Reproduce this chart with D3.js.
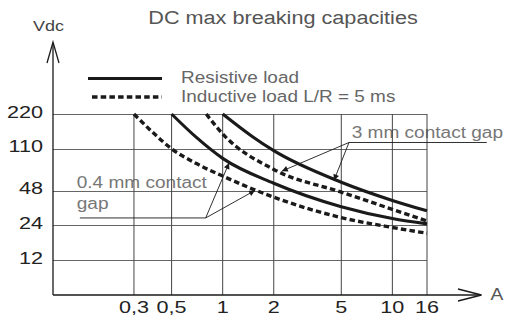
<!DOCTYPE html>
<html>
<head>
<meta charset="utf-8">
<script src="https://cdn.jsdelivr.net/npm/d3@7"></script>
<style>
body { margin: 0; background: #fff; }
text { font-family: "Liberation Sans", Arial, sans-serif; }
</style>
</head>
<body>
<div id="chart"></div>
<script>
//////////////////////////////////////////////////////////////////////////////
// Data (current in A, voltage in Vdc)

var titleText = "DC max breaking capacities";
var legendLabels = ["Resistive load", "Inductive load L/R = 5 ms"];

var ampTicks  = [0.3, 0.5, 1, 2, 5, 10, 16];
var ampLabels = ["0,3", "0,5", "1", "2", "5", "10", "16"];
var voltTicks  = [12, 24, 48, 110, 220];
var voltLabels = ["12", "24", "48", "110", "220"];

// 0.4 mm contact gap
var res04Amps  = [0.5, 0.7, 1, 2, 5, 10, 16];
var res04Volts = [220, 138, 91, 55.5, 34.8, 27.5, 24.7];
var ind04Amps  = [0.3, 0.4, 0.5, 0.7, 1, 2, 5, 10, 16];
var ind04Volts = [220, 146, 110, 82, 64, 42, 28, 23, 20.5];

// 3 mm contact gap
var res3Amps  = [1, 1.5, 2, 5, 10, 16];
var res3Volts = [220, 140, 106, 56.6, 39.4, 32];
var ind3Amps  = [0.8, 1, 2, 5, 10, 16];
var ind3Volts = [220, 148, 73, 46.5, 33, 26.2];

//////////////////////////////////////////////////////////////////////////////
// Scales, preliminaries

var width = 505, height = 318;

var xScale = d3.scaleLog().domain([0.1, 16]).range([53, 427]);
var yScale = d3.scaleLog().domain([6, 220]).range([295, 114]);

var ink = "#1a1a1a";
var fontScale = 1.19;

function zip(xs, ys) {
    return xs.map(function(x, i) { return [x, ys[i]]; });
}

// log-log interpolation on a curve, used to put arrow tips on the lines
function voltAt(amps, volts, a) {
    for (var i = 1; i < amps.length; i++) {
        if (a <= amps[i]) {
            var t = Math.log(a / amps[i-1]) / Math.log(amps[i] / amps[i-1]);
            return Math.exp(Math.log(volts[i-1]) + t * Math.log(volts[i] / volts[i-1]));
        }
    }
    return volts[volts.length - 1];
}

var line = d3.line()
    .x(function(d) { return xScale(d[0]); })
    .y(function(d) { return yScale(d[1]); })
    .curve(d3.curveMonotoneX);

function addText(sel, str, x, y, size, anchor, fill, sx) {
    return sel.append("text")
        .attr("transform", "translate(" + x + "," + y + ") scale(" + sx + ",1)")
        .attr("font-size", size)
        .attr("text-anchor", anchor)
        .attr("fill", fill)
        .text(str);
}

var svg = d3.select("#chart")
    .append("svg")
    .attr("width", width)
    .attr("height", height);

svg.append("defs")
    .append("marker")
    .attr("id", "head")
    .attr("viewBox", "0 0 10 10")
    .attr("refX", 10)
    .attr("refY", 5)
    .attr("markerWidth", 8)
    .attr("markerHeight", 6)
    .attr("markerUnits", "userSpaceOnUse")
    .attr("orient", "auto")
    .append("path")
    .attr("d", "M0,0 L10,5 L0,10 Z")
    .attr("fill", ink);

//////////////////////////////////////////////////////////////////////////////
// Title, axis names, legend

addText(svg, titleText, 283, 23.5, 19, "middle", "#555", 1.14);
addText(svg, "Vdc", 48.5, 30.5, 15, "middle", "#444", 1.2);
addText(svg, "A", 497, 300, 16, "middle", "#555", 1.2);

var legend = svg.append("g");
legend.append("line")
    .attr("x1", 88).attr("x2", 162).attr("y1", 78.5).attr("y2", 78.5)
    .attr("stroke", ink).attr("stroke-width", 3.2);
legend.append("line")
    .attr("x1", 92).attr("x2", 162).attr("y1", 97).attr("y2", 97)
    .attr("stroke", ink).attr("stroke-width", 3.4)
    .attr("stroke-dasharray", "5.5,3.2");
addText(legend, legendLabels[0], 181, 83, 17, "start", "#666", 1.115);
addText(legend, legendLabels[1], 181, 101.5, 17, "start", "#666", 1.115);

//////////////////////////////////////////////////////////////////////////////
// Annotation texts (drawn below the grid, as in the original)

var gap04Text = [0.138, 50.5];
var gap3Text  = [5.76, 135.6];

addText(svg, "0.4 mm contact", xScale(gap04Text[0]), yScale(gap04Text[1]), 16, "start", "#777", fontScale);
addText(svg, "gap", xScale(gap04Text[0]), yScale(gap04Text[1]) + 21, 16, "start", "#777", fontScale);
addText(svg, "3 mm contact gap", xScale(gap3Text[0]), yScale(gap3Text[1]), 16, "start", "#777", fontScale);

//////////////////////////////////////////////////////////////////////////////
// Grid and axes

var grid = svg.append("g")
    .attr("stroke", "#444")
    .attr("stroke-width", 1);

grid.selectAll("line.h")
    .data(voltTicks)
    .enter()
    .append("line")
    .attr("class", "h")
    .attr("x1", xScale(0.1))
    .attr("x2", xScale(16))
    .attr("y1", function(d) { return Math.round(yScale(d)) + 0.5; })
    .attr("y2", function(d) { return Math.round(yScale(d)) + 0.5; })
    .attr("stroke", "#666");

grid.selectAll("line.v")
    .data(ampTicks)
    .enter()
    .append("line")
    .attr("class", "v")
    .attr("x1", function(d) { return xScale(d); })
    .attr("x2", function(d) { return xScale(d); })
    .attr("y1", yScale(220))
    .attr("y2", yScale(6));

var axes = svg.append("g")
    .attr("stroke", ink)
    .attr("stroke-width", 1.3)
    .attr("fill", "none");

axes.append("line")
    .attr("x1", xScale(0.1)).attr("x2", xScale(0.1))
    .attr("y1", yScale(6)).attr("y2", 43);
axes.append("path")
    .attr("d", "M" + (xScale(0.1) - 6) + ",63 L" + xScale(0.1) + ",42 L" + (xScale(0.1) + 6) + ",63");
axes.append("line")
    .attr("x1", xScale(0.1)).attr("x2", 481)
    .attr("y1", yScale(6)).attr("y2", yScale(6));
axes.append("path")
    .attr("d", "M458," + (yScale(6) - 6) + " L481.5," + yScale(6) + " L458," + (yScale(6) + 6));

svg.append("g")
    .selectAll("text")
    .data(voltTicks)
    .enter()
    .append("text")
    .attr("transform", function(d) {
        return "translate(43," + (yScale(d) + 3.5) + ") scale(1.27,1)";
    })
    .attr("text-anchor", "end")
    .attr("font-size", 17)
    .attr("fill", "#222")
    .text(function(d, i) { return voltLabels[i]; });

svg.append("g")
    .selectAll("text")
    .data(ampTicks)
    .enter()
    .append("text")
    .attr("transform", function(d) {
        return "translate(" + xScale(d) + ",313) scale(1.27,1)";
    })
    .attr("text-anchor", "middle")
    .attr("font-size", 17)
    .attr("fill", "#222")
    .text(function(d, i) { return ampLabels[i]; });

//////////////////////////////////////////////////////////////////////////////
// Curves

var curves = [
    { pts: zip(res04Amps, res04Volts), dashed: false },
    { pts: zip(ind04Amps, ind04Volts), dashed: true },
    { pts: zip(res3Amps, res3Volts), dashed: false },
    { pts: zip(ind3Amps, ind3Volts), dashed: true }
];

svg.append("g")
    .selectAll("path")
    .data(curves)
    .enter()
    .append("path")
    .attr("d", function(d) { return line(d.pts); })
    .attr("fill", "none")
    .attr("stroke", ink)
    .attr("stroke-width", function(d) { return d.dashed ? 3.4 : 3.1; })
    .attr("stroke-dasharray", function(d) { return d.dashed ? "5.5,3.2" : null; });

//////////////////////////////////////////////////////////////////////////////
// Annotation leaders

var gap04Leader = [[0.144, 27.8], [0.794, 27.8]];
var gap04Tips = [
    [1.09, voltAt(res04Amps, res04Volts, 1.09) * 0.97],
    [1.55, voltAt(ind04Amps, ind04Volts, 1.55) * 0.98]
];
var gap3Leader = [[36, 124.8], [5.55, 124.8]];
var gap3Tips = [
    [2.23, voltAt(ind3Amps, ind3Volts, 2.23) * 1.02],
    [4.53, voltAt(res3Amps, res3Volts, 4.53) * 0.97]
];

var leaders = svg.append("g")
    .attr("stroke", ink)
    .attr("stroke-width", 0.9)
    .attr("fill", "none");

function drawLeader(base, tips) {
    leaders.append("line")
        .attr("x1", xScale(base[0][0])).attr("y1", yScale(base[0][1]))
        .attr("x2", xScale(base[1][0])).attr("y2", yScale(base[1][1]));
    tips.forEach(function(t) {
        leaders.append("line")
            .attr("x1", xScale(base[1][0])).attr("y1", yScale(base[1][1]))
            .attr("x2", xScale(t[0])).attr("y2", yScale(t[1]))
            .attr("marker-end", "url(#head)");
    });
}

drawLeader(gap04Leader, gap04Tips);
drawLeader(gap3Leader, gap3Tips);
</script>
</body>
</html>
